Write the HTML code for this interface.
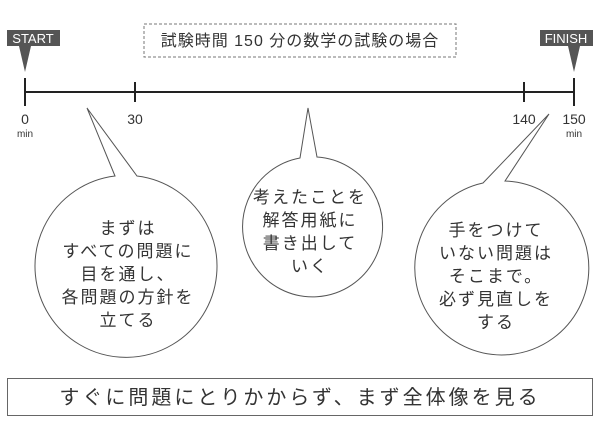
<!DOCTYPE html>
<html><head><meta charset="utf-8"><style>
body{margin:0;background:#fff;}
svg text{font-family:"Liberation Sans","Noto Sans CJK JP",sans-serif;fill:#333;}
</style></head><body>
<svg width="600" height="421" viewBox="0 0 600 421" xmlns="http://www.w3.org/2000/svg">
<rect x="144" y="24" width="312" height="33" fill="none" stroke="#777" stroke-dasharray="3,2"/>
<text x="300" y="46" font-size="16" text-anchor="middle" letter-spacing="1">試験時間 150 分の数学の試験の場合</text>
<rect x="7" y="30" width="53" height="16" fill="#555"/>
<text x="33" y="43" font-size="13" text-anchor="middle" style="fill:#fff">START</text>
<polygon points="19,46 31,46 25,72" fill="#555"/>
<rect x="540" y="30" width="53" height="16" fill="#555"/>
<text x="566" y="43" font-size="13" text-anchor="middle" style="fill:#fff">FINISH</text>
<polygon points="568,46 580,46 574,72" fill="#555"/>
<g stroke="#222" stroke-width="2">
<line x1="25" y1="92" x2="574" y2="92"/>
<line x1="25" y1="78" x2="25" y2="106"/>
<line x1="135" y1="82" x2="135" y2="102"/>
<line x1="524" y1="82" x2="524" y2="102"/>
<line x1="574" y1="78" x2="574" y2="106"/>
</g>
<g font-size="14" text-anchor="middle">
<text x="25" y="124">0</text><text x="135" y="124">30</text>
<text x="524" y="124">140</text><text x="574" y="124">150</text>
</g>
<g font-size="10" text-anchor="middle"><text x="25" y="137">min</text><text x="574" y="137">min</text></g>
<g fill="#fff" stroke="#555" stroke-width="1">
<path d="M115,176 L87,108 L137,176 A91,91 0 1 1 115,176 Z"/>
<path d="M300,158 L308,108 L317,157 A70,70 0 1 1 300,158 Z"/>
<path d="M483,183 L549,114 L505,181 A87,87 0 1 1 483,183 Z"/>
</g>
<g font-size="17" text-anchor="middle" letter-spacing="2">
<text x="128" y="234">まずは</text>
<text x="128" y="257">すべての問題に</text>
<text x="128" y="280">目を通し、</text>
<text x="128" y="303">各問題の方針を</text>
<text x="128" y="326">立てる</text>
<text x="310" y="203">考えたことを</text>
<text x="310" y="226">解答用紙に</text>
<text x="310" y="249">書き出して</text>
<text x="310" y="272">いく</text>
<text x="496" y="236">手をつけて</text>
<text x="496" y="259">いない問題は</text>
<text x="496" y="282">そこまで。</text>
<text x="496" y="305">必ず見直しを</text>
<text x="496" y="328">する</text>
</g>
<rect x="7.5" y="378.5" width="585" height="37" fill="none" stroke="#666"/>
<text x="300" y="404" font-size="20" text-anchor="middle" letter-spacing="3">すぐに問題にとりかからず、まず全体像を見る</text>
</svg>
</body></html>
